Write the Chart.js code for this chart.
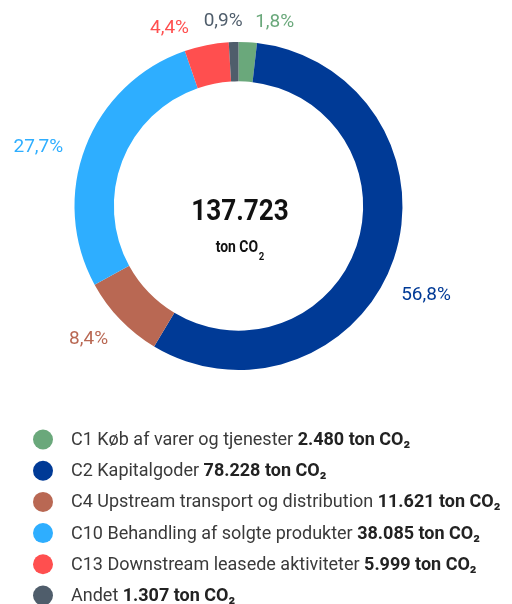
<!DOCTYPE html>
<html>
<head>
<meta charset="utf-8">
<script src="https://cdn.jsdelivr.net/npm/chart.js@4/dist/chart.umd.min.js"></script>
<style>
  html, body { margin: 0; padding: 0; background: #ffffff; }
  canvas { display: block; }
</style>
</head>
<body>
<canvas id="c" width="512" height="604"></canvas>
<script>
// Scope 3 emissions by category (ton CO2)
const categories = [
  'C1 Køb af varer og tjenester',
  'C2 Kapitalgoder',
  'C4 Upstream transport og distribution',
  'C10 Behandling af solgte produkter',
  'C13 Downstream leasede aktiviteter',
  'Andet'
];
const emissions = [2480, 78228, 11621, 38085, 5999, 1307];
const valueLabels = ['2.480', '78.228', '11.621', '38.085', '5.999', '1.307'];
const percentLabels = ['1,8%', '56,8%', '8,4%', '27,7%', '4,4%', '0,9%'];
const totalLabel = '137.723';
const colors = ['#6aa87b', '#003a96', '#b96853', '#2eaeff', '#ff4f4f', '#4f5d6b'];

const FONT = 'Roboto, "Noto Sans", sans-serif';

// small angular shifts (degrees) that keep the outer labels clear of each other
const labelShift = [7.8, 6.6, 2.5, -4.6, -9.8, -3.0];

const outerLabels = {
  id: 'outerLabels',
  afterDatasetsDraw(chart) {
    const ctx = chart.ctx;
    const meta = chart.getDatasetMeta(0);
    ctx.save();
    ctx.font = '19px ' + FONT;
    ctx.textAlign = 'center';
    ctx.textBaseline = 'middle';
    meta.data.forEach((arc, i) => {
      const p = arc.getProps(['x', 'y', 'startAngle', 'endAngle', 'outerRadius'], true);
      const mid = (p.startAngle + p.endAngle) / 2 + labelShift[i] * Math.PI / 180;
      const w = ctx.measureText(percentLabels[i]).width;
      const r = p.outerRadius + 21 + Math.abs(Math.cos(mid)) * w / 2;
      ctx.fillStyle = colors[i];
      ctx.fillText(percentLabels[i], p.x + Math.cos(mid) * r, p.y + Math.sin(mid) * r + 1);
    });

    // centre total, set in a slightly narrowed bold face
    const cx = meta.data[0].x + 1.5, cy = meta.data[0].y;
    const squeeze = 0.87;
    ctx.fillStyle = '#111111';
    ctx.textBaseline = 'alphabetic';
    ctx.save();
    ctx.translate(cx, 0);
    ctx.scale(squeeze, 1);
    ctx.textAlign = 'center';
    ctx.font = 'bold 30px ' + FONT;
    ctx.fillText(totalLabel, 0, 220);
    ctx.font = 'bold 16px ' + FONT;
    const t = 'ton CO';
    const tw = ctx.measureText(t).width;
    ctx.font = 'bold 11px ' + FONT;
    const sw = ctx.measureText('2').width;
    const x0 = -(tw + sw + 1) / 2;
    ctx.textAlign = 'left';
    ctx.font = 'bold 16px ' + FONT;
    ctx.fillText(t, x0, 251.5);
    ctx.font = 'bold 11px ' + FONT;
    ctx.fillText('2', x0 + tw + 1, 259.5);
    ctx.restore();
    ctx.restore();
  }
};

const bottomLegend = {
  id: 'bottomLegend',
  afterDraw(chart) {
    const ctx = chart.ctx;
    ctx.save();
    const top = 439.5, step = 31.2;
    categories.forEach((name, i) => {
      const y = top + i * step;
      ctx.beginPath();
      ctx.arc(43, y, 10, 0, Math.PI * 2);
      ctx.fillStyle = colors[i];
      ctx.fill();
      ctx.textBaseline = 'middle';
      ctx.textAlign = 'left';
      ctx.font = '18px ' + FONT;
      ctx.fillStyle = '#3a3a3a';
      const lead = name + ' ';
      ctx.fillText(lead, 71, y + 1);
      const lw = ctx.measureText(lead).width;
      ctx.font = 'bold 18px ' + FONT;
      ctx.fillStyle = '#222222';
      ctx.fillText(valueLabels[i] + ' ton CO\u2082', 71 + lw, y + 1);
    });
    ctx.restore();
  }
};

new Chart(document.getElementById('c'), {
  type: 'doughnut',
  data: {
    labels: categories,
    datasets: [{
      data: emissions,
      backgroundColor: colors,
      borderWidth: 0,
      hoverOffset: 0
    }]
  },
  options: {
    responsive: false,
    animation: false,
    events: [],
    cutout: '76%',
    layout: { padding: { top: 42, bottom: 234, left: 74.5, right: 109.5 } },
    plugins: {
      legend: { display: false },
      tooltip: { enabled: false }
    }
  },
  plugins: [outerLabels, bottomLegend]
});
</script>
</body>
</html>
